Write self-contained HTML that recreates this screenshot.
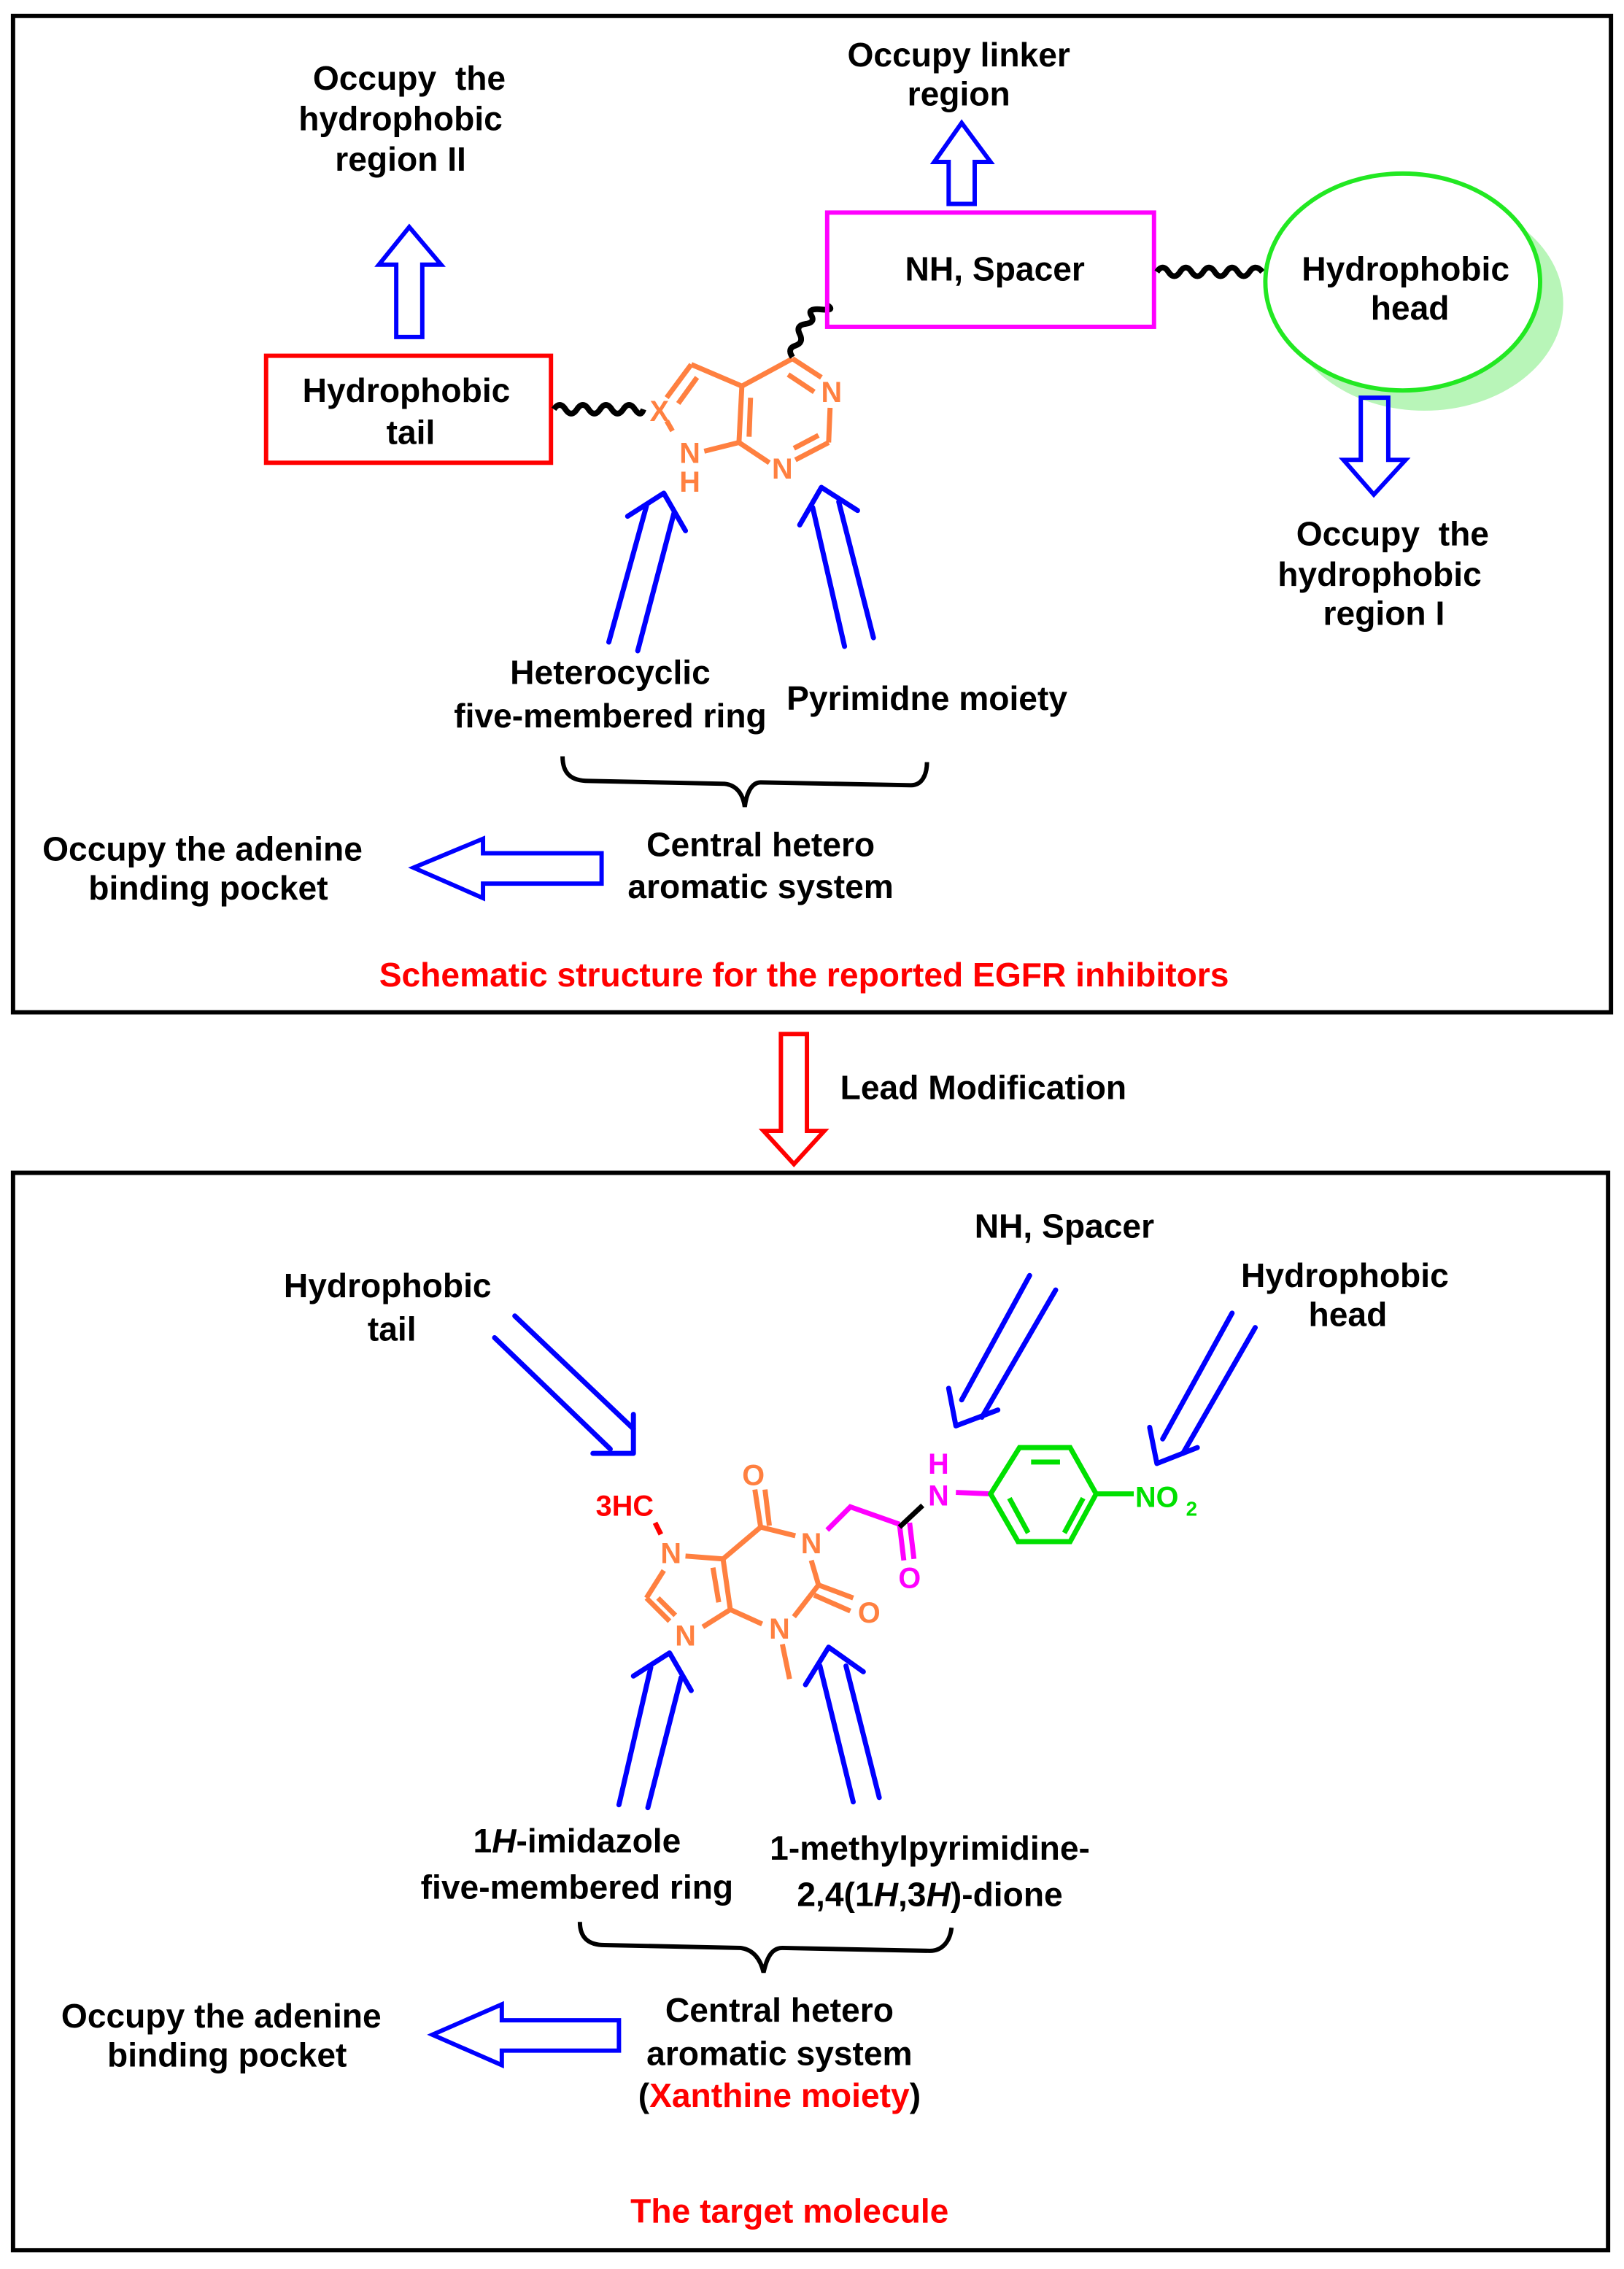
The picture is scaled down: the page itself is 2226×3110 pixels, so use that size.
<!DOCTYPE html>
<html><head><meta charset="utf-8"><style>
html,body{margin:0;padding:0;background:#fff}
svg{display:block}
text{font-family:"Liberation Sans",Arial,sans-serif;font-weight:bold;font-size:23.3px;text-anchor:middle}
</style></head><body>
<svg width="2226" height="3110" viewBox="0 0 1123 1569" xmlns="http://www.w3.org/2000/svg">
<rect x="0" y="0" width="1123" height="1569" fill="#fff"/>
<rect x="9" y="11" width="1105" height="689" fill="none" stroke="#000" stroke-width="3"/>
<rect x="9" y="811" width="1103" height="745" fill="none" stroke="#000" stroke-width="3"/>

<!-- TOP -->
<text x="283" y="62">Occupy&#160; the</text>
<text x="277" y="90">hydrophobic</text>
<text x="277" y="118">region II</text>
<polygon points="283,157 305,183 292,183 292,233 274,233 274,183 262,183" fill="none" stroke="#00f" stroke-width="3"/>
<rect x="184" y="246" width="197" height="74" fill="none" stroke="#f00" stroke-width="3"/>
<text x="281" y="278">Hydrophobic</text>
<text x="284" y="307">tail</text>
<path d="M383,283 q4,-6 8,0 t8,0 t8,0 t8,0 t8,0 t8,0 t8,0 t6,0" fill="none" stroke="#000" stroke-width="4"/>

<g stroke="#ff8040" stroke-width="3.5" fill="none" stroke-linecap="butt">
<line x1="461" y1="275" x2="478" y2="252"/>
<line x1="469" y1="279" x2="482" y2="261"/>
<line x1="478" y1="252" x2="513" y2="267"/>
<line x1="513" y1="267" x2="511" y2="306"/>
<line x1="519" y1="275" x2="518" y2="302"/>
<line x1="511" y1="306" x2="487" y2="312"/>
<line x1="461" y1="291" x2="465" y2="298"/>
<line x1="513" y1="267" x2="548" y2="248"/>
<line x1="548" y1="248" x2="568" y2="261"/>
<line x1="545" y1="259" x2="563" y2="271"/>
<line x1="574" y1="282" x2="573" y2="306"/>
<line x1="573" y1="306" x2="550" y2="318"/>
<line x1="566" y1="301" x2="549" y2="310"/>
<line x1="511" y1="306" x2="532" y2="320"/>
</g>
<text x="456" y="291" fill="#ff8040" style="font-size:20px">X</text>
<text x="477" y="320" fill="#ff8040" style="font-size:20px">N</text>
<text x="477" y="340" fill="#ff8040" style="font-size:20px">H</text>
<text x="575" y="278" fill="#ff8040" style="font-size:20px">N</text>
<text x="541" y="331" fill="#ff8040" style="font-size:20px">N</text>
<path d="M548,247 q-4,-6 2,-8 t3,-8 t4,-7 t4,-6 t7,-4 t4,-3" fill="none" stroke="#000" stroke-width="4"/>

<rect x="572" y="147" width="226" height="79" fill="none" stroke="#f0f" stroke-width="3"/>
<text x="688" y="194">NH, Spacer</text>
<text x="663" y="46">Occupy linker</text>
<text x="663" y="73">region</text>
<polygon points="665,85 685,112 674,112 674,141 656,141 656,112 646,112" fill="none" stroke="#00f" stroke-width="3"/>
<path d="M800,188 q4,-6 8,0 t8,0 t8,0 t8,0 t8,0 t8,0 t8,0 t8,0 t9,0" fill="none" stroke="#000" stroke-width="4"/>
<ellipse cx="985" cy="210" rx="96" ry="74" fill="#b8f5b8"/>
<ellipse cx="970" cy="195" rx="95" ry="75" fill="#fff" stroke="#22e822" stroke-width="3"/>
<text x="972" y="194">Hydrophobic</text>
<text x="975" y="221">head</text>
<polygon points="941,275 960,275 960,318 972,318 950,342 929,318 941,318" fill="none" stroke="#00f" stroke-width="3"/>
<text x="963" y="377">Occupy&#160; the</text>
<text x="954" y="405">hydrophobic</text>
<text x="957" y="432">region I</text>

<g stroke="#00f" stroke-width="3.5" fill="none" stroke-linecap="round" stroke-linejoin="round">
<line x1="421" y1="444" x2="447" y2="350"/>
<line x1="441" y1="450" x2="466" y2="355"/>
<polyline points="434,357 459,341 474,367"/>
<line x1="584" y1="447" x2="562" y2="351"/>
<line x1="604" y1="441" x2="580" y2="347"/>
<polyline points="553,363 568,337 593,353"/>
</g>
<text x="422" y="473">Heterocyclic</text>
<text x="422" y="503">five-membered ring</text>
<text x="641" y="491">Pyrimidne moiety</text>
<path d="M389,523 C389,535 395,540 407,540 L501,542 C510,543 514,550 515,558 C516,550 519,541 526,541 L630,543 C638,543 641,535 641,527" fill="none" stroke="#000" stroke-width="3"/>
<text x="526" y="592">Central hetero</text>
<text x="526" y="621">aromatic system</text>
<polygon points="286,600 334,580 334,590 416,590 416,611 334,611 334,621" fill="none" stroke="#00f" stroke-width="3"/>
<text x="140" y="595">Occupy the adenine</text>
<text x="144" y="622">binding pocket</text>
<text x="556" y="682" fill="#f00">Schematic structure for the reported EGFR inhibitors</text>

<polygon points="540,715 558,715 558,782 570,782 549,805 528,782 540,782" fill="none" stroke="#f00" stroke-width="3"/>
<text x="680" y="760">Lead Modification</text>

<!-- BOTTOM -->
<text x="736" y="856">NH, Spacer</text>
<text x="268" y="897">Hydrophobic</text>
<text x="271" y="927">tail</text>
<text x="930" y="890">Hydrophobic</text>
<text x="932" y="917">head</text>
<g stroke="#00f" stroke-width="3.5" fill="none" stroke-linecap="round" stroke-linejoin="round">
<line x1="356" y1="910" x2="438" y2="988"/>
<line x1="342" y1="925" x2="422" y2="1002"/>
<polyline points="438,978 438,1005 410,1005"/>
<line x1="712" y1="882" x2="665" y2="968"/>
<line x1="730" y1="892" x2="679" y2="980"/>
<polyline points="656,960 661,986 690,975"/>
<line x1="852" y1="908" x2="804" y2="995"/>
<line x1="868" y1="918" x2="818" y2="1005"/>
<polyline points="795,987 800,1012 828,1001"/>
<line x1="428" y1="1248" x2="450" y2="1153"/>
<line x1="448" y1="1250" x2="471" y2="1160"/>
<polyline points="438,1159 463,1143 478,1169"/>
<line x1="590" y1="1246" x2="567" y2="1152"/>
<line x1="608" y1="1243" x2="585" y2="1152"/>
<polyline points="557,1165 573,1139 597,1156"/>
</g>

<g stroke="#ff8040" stroke-width="3.5" fill="none">
<line x1="474" y1="1076" x2="500" y2="1078"/>
<line x1="459" y1="1086" x2="447" y2="1105"/>
<line x1="447" y1="1105" x2="463" y2="1121"/>
<line x1="455" y1="1105" x2="467" y2="1117"/>
<line x1="486" y1="1125" x2="505" y2="1113"/>
<line x1="505" y1="1113" x2="500" y2="1078"/>
<line x1="497" y1="1108" x2="493" y2="1084"/>
<line x1="500" y1="1078" x2="526" y2="1056"/>
<line x1="526" y1="1056" x2="522" y2="1030"/>
<line x1="532" y1="1055" x2="529" y2="1030"/>
<line x1="526" y1="1056" x2="550" y2="1062"/>
<line x1="561" y1="1079" x2="566" y2="1096"/>
<line x1="566" y1="1096" x2="590" y2="1105"/>
<line x1="563" y1="1103" x2="588" y2="1114"/>
<line x1="566" y1="1096" x2="549" y2="1118"/>
<line x1="505" y1="1113" x2="527" y2="1123"/>
<line x1="541" y1="1137" x2="546" y2="1161"/>
</g>
<line x1="453" y1="1053" x2="457" y2="1061" stroke="#f00" stroke-width="3.5"/>
<text x="521" y="1027" fill="#ff8040" style="font-size:20px">O</text>
<text x="464" y="1081" fill="#ff8040" style="font-size:20px">N</text>
<text x="474" y="1138" fill="#ff8040" style="font-size:20px">N</text>
<text x="561" y="1074" fill="#ff8040" style="font-size:20px">N</text>
<text x="539" y="1133" fill="#ff8040" style="font-size:20px">N</text>
<text x="601" y="1122" fill="#ff8040" style="font-size:20px">O</text>
<text x="432" y="1048" fill="#f00" style="font-size:20px">3HC</text>
<g stroke="#f0f" stroke-width="3.5" fill="none">
<polyline points="572,1058 588,1042 622,1054"/>
<line x1="622" y1="1054" x2="625" y2="1079"/>
<line x1="629" y1="1053" x2="632" y2="1078"/>
<line x1="661" y1="1032" x2="685" y2="1033"/>
</g>
<line x1="622" y1="1056" x2="638" y2="1041" stroke="#000" stroke-width="3.5"/>
<text x="629" y="1098" fill="#f0f" style="font-size:20px">O</text>
<text x="649" y="1041" fill="#f0f" style="font-size:20px">N</text>
<text x="649" y="1019" fill="#f0f" style="font-size:20px">H</text>
<g stroke="#00e000" stroke-width="3.5" fill="none">
<polygon points="685,1033 705,1001 740,1001 758,1033 740,1066 704,1066"/>
<line x1="713" y1="1011" x2="733" y2="1011"/>
<line x1="698" y1="1036" x2="711" y2="1060"/>
<line x1="749" y1="1036" x2="736" y2="1060"/>
<line x1="758" y1="1033" x2="784" y2="1033"/>
</g>
<text x="800" y="1042" fill="#00e000" style="font-size:20px">NO</text>
<text x="824" y="1048" fill="#00e000" style="font-size:14px">2</text>

<text x="399" y="1281">1<tspan font-style="italic">H</tspan>-imidazole</text>
<text x="399" y="1313">five-membered ring</text>
<text x="643" y="1286">1-methylpyrimidine-</text>
<text x="643" y="1318">2,4(1<tspan font-style="italic">H</tspan>,3<tspan font-style="italic">H</tspan>)-dione</text>
<path d="M401,1329 C401,1340 407,1345 418,1345 L512,1347 C521,1348 526,1355 528,1364 C530,1355 533,1347 541,1347 L643,1349 C652,1349 657,1342 658,1333" fill="none" stroke="#000" stroke-width="3"/>
<text x="539" y="1398">Central hetero</text>
<text x="539" y="1428">aromatic system</text>
<text x="539" y="1457">(<tspan fill="#f00">Xanthine moiety</tspan>)</text>
<polygon points="299,1407 347,1386 347,1397 428,1397 428,1418 347,1418 347,1428" fill="none" stroke="#00f" stroke-width="3"/>
<text x="153" y="1402">Occupy the adenine</text>
<text x="157" y="1429">binding pocket</text>
<text x="546" y="1537" fill="#f00">The target molecule</text>
</svg>
</body></html>
